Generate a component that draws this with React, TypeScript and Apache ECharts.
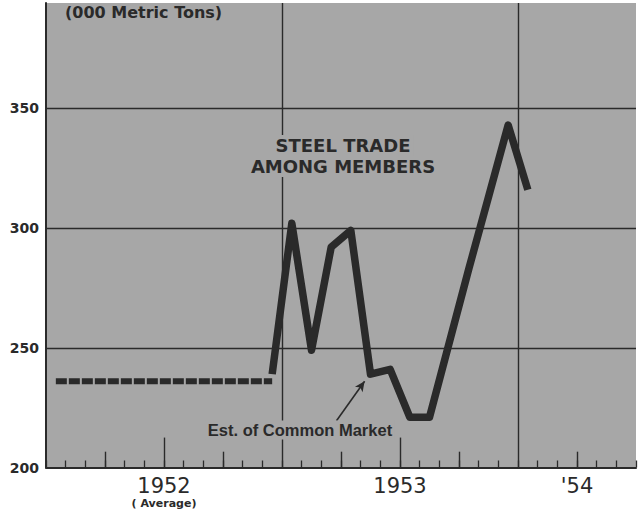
import React, { useEffect, useRef } from "react";
import * as echarts from "echarts";

// x = months since January 1952 (month midpoints for data)
const avgMonths1952 = [0.5, 1.5, 2.5, 3.5, 4.5, 5.5, 6.5, 7.5, 8.5, 9.5, 10.5, 11.5];
const avgValues1952 = [236, 236, 236, 236, 236, 236, 236, 236, 236, 236, 236, 236];
const tradeMonths = [11.5, 12.5, 13.5, 14.5, 15.5, 16.5, 17.5, 18.5, 19.5, 20.5, 21.5, 22.5, 23.5, 24.5];
const tradeValues = [239, 302, 249, 292, 299, 239, 241, 221, 221, 252, 283, 313, 343, 316];

const yGridValues = [250, 300, 350];
const yearStarts = [12, 24];
const quarterTicks = [3, 9, 15, 21, 27];
const halfYearTicks = [6, 18];
const xTickLabels: Record<number, string> = { 6: "1952", 18: "1953", 27: "'54" };
const xSubLabels: Record<number, string> = { 6: "( Average)" };
const titleLines = ["STEEL TRADE", "AMONG MEMBERS"];

const BG = "#a7a7a7";
const INK = "#2a2a2a";

export default function App() {
  const ref = useRef<HTMLDivElement>(null);
  useEffect(() => {
    if (!ref.current) return;
    const chart = echarts.init(ref.current, undefined, { renderer: "svg" });
    const yMin = 200;
    const yMax = 394;
    const tickSeg = (x: number, len: number) => [
      { coord: [x, yMin] },
      { coord: [x, yMin + len] },
    ];
    chart.setOption({
      animation: false,
      backgroundColor: "#ffffff",
      grid: {
        left: 46,
        right: 0,
        top: 3,
        bottom: 44.5,
        show: true,
        backgroundColor: BG,
        borderWidth: 0,
      },
      xAxis: {
        type: "value",
        min: 0,
        max: 30,
        interval: 1,
        axisLine: { show: true, lineStyle: { color: INK, width: 2 } },
        axisTick: { show: true, inside: true, length: 7, lineStyle: { color: INK, width: 1.3 } },
        splitLine: { show: false },
        axisLabel: {
          show: true,
          margin: 8,
          formatter: (v: number) => {
            const main = xTickLabels[v];
            if (!main) return "";
            const sub = xSubLabels[v];
            return sub ? `{y|${main}}\n{s|${sub}}` : `{y|${main}}`;
          },
          rich: {
            y: {
              fontFamily: "DejaVu Sans",
              fontSize: 21,
              lineHeight: 21,
              color: INK,
            },
            s: {
              fontFamily: "DejaVu Sans",
              fontWeight: "bold",
              fontSize: 11,
              lineHeight: 13,
              color: INK,
            },
          },
        },
      },
      yAxis: {
        type: "value",
        min: yMin,
        max: yMax,
        interval: 50,
        axisLine: { show: true, lineStyle: { color: INK, width: 2 } },
        axisTick: { show: false },
        splitLine: { show: false },
        axisLabel: {
          margin: 7,
          fontFamily: "DejaVu Sans",
          fontWeight: "bold",
          fontSize: 14,
          color: INK,
          formatter: (v: number) => (v % 50 === 0 ? String(v) : ""),
        },
      },
      series: [
        {
          name: "grid",
          type: "line",
          data: [],
          z: 1,
          silent: true,
          markLine: {
            silent: true,
            symbol: ["none", "none"],
            label: { show: false },
            lineStyle: { color: INK, width: 1.4, type: "solid" },
            data: [
              ...yGridValues.map((v) => ({ yAxis: v })),
              ...yearStarts.map((x) => [{ coord: [x, yMin] }, { coord: [x, yMax] }]),
              ...quarterTicks.map((x) => tickSeg(x, 6.6)),
              ...halfYearTicks.map((x) => tickSeg(x, 12.5)),
            ],
          },
        },
        {
          name: "1952 average",
          type: "line",
          z: 3,
          symbol: "none",
          data: avgMonths1952.map((m, i) => [m, avgValues1952[i]]),
          lineStyle: { color: INK, width: 6, type: [11, 2], cap: "butt" },
        },
        {
          name: "Steel trade among members",
          type: "line",
          z: 4,
          symbol: "none",
          data: tradeMonths.map((m, i) => [m, tradeValues[i]]),
          lineStyle: { color: INK, width: 7.5, cap: "butt", join: "round" },
          markLine: {
            silent: true,
            symbol: ["none", "arrow"],
            symbolSize: [7, 10],
            label: { show: false },
            lineStyle: { color: INK, width: 1.6, type: "solid" },
            data: [[{ coord: [14.77, 219.5] }, { coord: [16.2, 236.0] }]],
          },
        },
      ],
      graphic: [
        {
          type: "text",
          x: 65,
          y: 12.5,
          z: 10,
          style: {
            text: "(000 Metric Tons)",
            fontFamily: "DejaVu Sans",
            fontWeight: "bold",
            fontSize: 16,
            fill: INK,
            align: "left",
            verticalAlign: "middle",
          },
        },
        ...titleLines.map((t, i) => ({
          type: "text",
          x: 343,
          y: 145.5 + i * 21,
          z: 10,
          style: {
            text: t,
            fontFamily: "DejaVu Sans",
            fontWeight: "bold",
            fontSize: 18,
            lineHeight: 21,
            fill: INK,
            align: "center",
            verticalAlign: "middle",
            backgroundColor: BG,
            padding: [0, 3],
          },
        })),
        {
          type: "text",
          x: 300,
          y: 430,
          z: 10,
          style: {
            text: "Est. of Common Market",
            fontFamily: "Liberation Sans",
            fontWeight: "bold",
            fontSize: 16.5,
            fill: INK,
            align: "center",
            verticalAlign: "middle",
            backgroundColor: BG,
            padding: [1, 2],
          },
        },
      ],
    });
    return () => chart.dispose();
  }, []);
  return (
    <div
      ref={ref}
      style={{ position: "absolute", left: 0, top: 0, width: 639, height: 512 }}
    />
  );
}
